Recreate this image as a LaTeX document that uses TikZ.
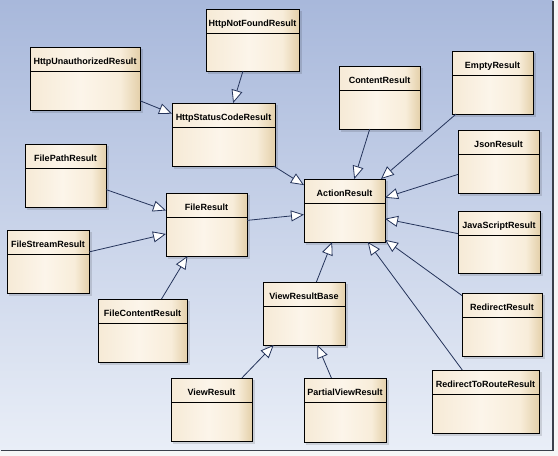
\documentclass[tikz,border=0pt]{standalone}
\usepackage{fontspec}
\setmainfont{Liberation Sans}
\usetikzlibrary{arrows.meta,calc}
\definecolor{bgtop}{HTML}{A8B8DB}
\definecolor{bgbot}{HTML}{E9EEF7}
\definecolor{boxl}{HTML}{F6EAD6}
\definecolor{boxm}{HTML}{FCF5EA}
\definecolor{boxn}{HTML}{F8EDDA}
\definecolor{boxr}{HTML}{E4D0AA}
\definecolor{linec}{HTML}{24335A}
\definecolor{framec}{HTML}{3A3F4A}
\pgfdeclarehorizontalshading{clsshade}{100bp}{color(0bp)=(boxl); color(25bp)=(boxl); color(48bp)=(boxm); color(66bp)=(boxn); color(75bp)=(boxr); color(100bp)=(boxr)}
\tikzset{
  clsbox/.style={draw=black, line width=0.9pt, shading=clsshade, inner sep=0pt, outer sep=0pt, anchor=north west},
  clsshadow/.style={fill=black, opacity=0.12},
  clstitle/.style={font=\bfseries\fontsize{9}{10}\selectfont, anchor=base, inner sep=0pt},
  gen/.style={draw=linec, line width=0.8pt, -{Triangle[length=13pt,width=11pt,fill=white]}},
}
\newcommand{\umlclass}[7]{%
  \fill[clsshadow] (#2+2,#3+2) rectangle (#4+2.5,#5+2.5);
  \node[clsbox, minimum width={#4-#2}, minimum height={#5-#3}] (#1) at (#2,#3) {};
  \draw[line width=0.8pt] ([yshift=-#6pt]#1.north west) -- ([yshift=-#6pt]#1.north east);
  \node[clstitle] (#1-t) at ([yshift=-17.5pt]#1.north) {#7};
}
\begin{document}
\begin{tikzpicture}[x=1pt,y=-1pt]
\useasboundingbox (0,0) rectangle (558,456);
\fill[white!93!gray] (0,0) rectangle (558,456);
\shade[top color=bgtop, bottom color=bgbot] (0,0) rectangle (553,450);
\draw[framec, line width=1.3pt] (553,1) -- (553,450.5) -- (1,450.5);

\umlclass{hnf}{206}{9}{299}{71}{24.5}{HttpNotFoundResult}
\umlclass{hun}{30}{47}{140}{110}{24.5}{HttpUnauthorizedResult}
\umlclass{hsc}{172}{103}{275}{166}{24.5}{HttpStatusCodeResult}
\umlclass{fpr}{25}{144}{106}{207}{24.5}{FilePathResult}
\umlclass{fr}{166}{193}{247}{256}{24.5}{FileResult}
\umlclass{fsr}{7}{230}{89}{293}{24.5}{FileStreamResult}
\umlclass{fcr}{98}{299}{187}{362}{24.5}{FileContentResult}
\umlclass{vrb}{263}{282}{345}{345}{24.5}{ViewResultBase}
\umlclass{vr}{171}{378}{252}{441}{24.5}{ViewResult}
\umlclass{pvr}{304}{378}{386}{442}{24.5}{PartialViewResult}
\umlclass{cr}{339}{66}{420}{129}{24.5}{ContentResult}
\umlclass{er}{452}{51}{533}{114}{24.5}{EmptyResult}
\umlclass{jr}{458}{130}{539}{193}{24.5}{JsonResult}
\umlclass{ar}{304}{179}{385}{242}{24.5}{ActionResult}
\umlclass{jsr}{458}{211}{540}{273}{24.5}{JavaScriptResult}
\umlclass{rr}{462}{293}{542}{356}{24.5}{RedirectResult}
\umlclass{rtr}{432}{370}{539}{433}{24.5}{RedirectToRouteResult}

\draw[gen] (hnf) -- (hsc);
\draw[gen] (hun) -- (hsc);
\draw[gen] (hsc) -- (ar);
\draw[gen] (fpr) -- (fr);
\draw[gen] (fsr) -- (fr);
\draw[gen] (fcr) -- (fr);
\draw[gen] (fr) -- (ar);
\draw[gen] (vr) -- (vrb);
\draw[gen] (pvr) -- (vrb);
\draw[gen] (vrb) -- (ar);
\draw[gen] (cr) -- (ar);
\draw[gen] (er) -- (ar);
\draw[gen] (jr) -- (ar);
\draw[gen] (jsr) -- (ar);
\draw[gen] (rr) -- (ar);
\draw[gen] (rtr) -- (ar);
\end{tikzpicture}
\end{document}
